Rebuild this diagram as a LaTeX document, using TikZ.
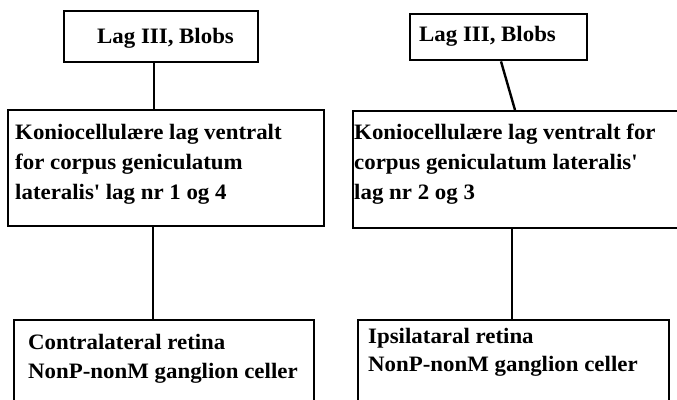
\documentclass[tikz,border=0pt]{standalone}
\usepackage{fontspec}
\setmainfont{Liberation Serif}[FakeStretch=1.04]
\begin{document}
% box body: width, height, left indent, first baseline, lines
\newcommand\cellbody[5]{\parbox[t][#2][t]{#1}{\raggedright\leftskip=#3\relax\rule{0pt}{#4}#5}}
\begin{tikzpicture}[x=1pt,y=-1pt,
  cell/.style={draw=black, line width=2.4pt, inner sep=0pt, anchor=north west,
    font=\bfseries\fontsize{22}{30}\selectfont},
  link/.style={draw=black, line width=2.4pt}]
\useasboundingbox (0,0) rectangle (677,399);
\fill[white] (0,0) rectangle (677,399);
\clip (0,0) rectangle (677,399);

% left column
\node[cell] (lt) at (63,10) {\cellbody{194pt}{51pt}{33pt}{32pt}{Lag III, Blobs}};
\node[cell] (lm) at (7,109) {\cellbody{316pt}{116pt}{7pt}{29pt}{Koniocellulære lag ventralt\\for corpus geniculatum\\lateralis\textquotesingle\ lag nr 1 og 4}};
\node[cell] (lb) at (13,319) {\cellbody{300pt}{110pt}{14pt}{29pt}{Contralateral retina\\[-1pt]NonP-nonM ganglion celler}};

% right column
\node[cell] (rt) at (409,13) {\cellbody{177pt}{46pt}{9pt}{27pt}{Lag III, Blobs}};
\node[cell] (rm) at (352,110) {\cellbody{340pt}{117pt}{1pt}{28pt}{Koniocellulære lag ventralt for\\corpus geniculatum lateralis\textquotesingle\\lag nr 2 og 3}};
\node[cell] (rb) at (357,319) {\cellbody{311pt}{110pt}{10pt}{23pt}{Ipsilataral retina\\[-2pt]NonP-nonM ganglion celler}};

% connectors
\draw[link] ([xshift=91pt]lt.south west) -- ([xshift=91pt]lt.south west |- lm.north);
\draw[link] ([xshift=146pt]lm.south west) -- ([xshift=146pt]lm.south west |- lb.north);
\draw[link] ([xshift=92pt]rt.south west) -- ([xshift=163pt]rm.north west);
\draw[link] ([xshift=160pt]rm.south west) -- ([xshift=160pt]rm.south west |- rb.north);
\end{tikzpicture}
\end{document}
